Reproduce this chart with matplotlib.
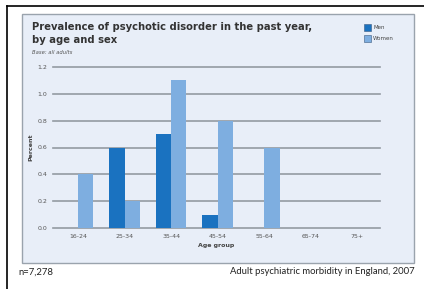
import matplotlib.pyplot as plt
import numpy as np
from matplotlib.patches import Rectangle
from matplotlib.lines import Line2D

# data
groups = ['16-24', '25-34', '35-44', '45-54', '55-64', '65-74', '75+']
men = [0.0, 0.6, 0.7, 0.1, 0.0, 0.0, 0.0]
women = [0.4, 0.2, 1.1, 0.8, 0.6, 0.0, 0.0]
yticks = [0.0, 0.2, 0.4, 0.6, 0.8, 1.0, 1.2]

W, H = 424, 289
fig = plt.figure(figsize=(W / 100, H / 100), dpi=100)
fig.patch.set_facecolor('white')

def fx(px):
    return px / W

def fy(py):
    return 1 - py / H

# black frame lines (left and top)
fig.add_artist(Line2D([fx(7), fx(7)], [fy(6), 0], color='black', lw=1.2))
fig.add_artist(Line2D([fx(7), 1], [fy(6), fy(6)], color='black', lw=1.2))

# light blue panel
fig.add_artist(Rectangle((fx(22), fy(263)), fx(414) - fx(22), fy(14) - fy(263),
                         facecolor='#e8eef8', edgecolor='#9aa3ad', lw=1.0, zorder=0))

men_c = '#1a72c0'
women_c = '#7eaee0'

ax = fig.add_axes([fx(53), fy(228), fx(380) - fx(53), fy(67) - fy(228)])
ax.set_zorder(2)
ax.set_facecolor('none')
x = np.arange(len(groups))
w = 0.33
for t in yticks:
    ax.axhline(t, color='#939aa2', lw=1.2, zorder=1, clip_on=False)
ax.bar(x - w, men, w, align='edge', color=men_c, zorder=2)
ax.bar(x, women, w, align='edge', color=women_c, zorder=2)
ax.set_xlim(-0.54, 6.49)
ax.set_ylim(0, 1.2)
for s in ax.spines.values():
    s.set_visible(False)
ax.set_yticks(yticks)
ax.set_yticklabels(['%.1f' % t for t in yticks], fontsize=4.5, color='#555555')
ax.set_xticks(x)
ax.set_xticklabels(groups, fontsize=4.5, color='#555555')
ax.tick_params(axis='both', length=0, pad=4)
ax.set_ylabel('Percent', fontsize=4.5, fontweight='bold', color='#444444', labelpad=3)
ax.set_xlabel('Age group', fontsize=4.5, fontweight='bold', color='#444444', labelpad=3)

# titles
fig.text(fx(32), fy(27), 'Prevalence of psychotic disorder in the past year,',
         fontsize=7.2, fontweight='bold', color='#333333', va='center')
fig.text(fx(32), fy(40), 'by age and sex',
         fontsize=7.2, fontweight='bold', color='#333333', va='center')
fig.text(fx(32), fy(52), 'Base: all adults', fontsize=3.8, style='italic',
         color='#555555', va='center')

# legend
fig.add_artist(Rectangle((fx(364), fy(31)), fx(7), fy(24) - fy(31),
                         facecolor=men_c, edgecolor='#3a5a80', lw=0.4))
fig.add_artist(Rectangle((fx(364), fy(42)), fx(7), fy(35) - fy(42),
                         facecolor=women_c, edgecolor='#3a5a80', lw=0.4))
fig.text(fx(373), fy(27.5), 'Men', fontsize=4, color='#444444', va='center')
fig.text(fx(373), fy(38.5), 'Women', fontsize=4, color='#444444', va='center')

# footer
fig.text(fx(18), fy(272), 'n=7,278', fontsize=6.8, family='Lato', color='#222222', va='center')
fig.text(fx(415), fy(272), 'Adult psychiatric morbidity in England, 2007',
         fontsize=6.8, family='Lato', color='#222222', va='center', ha='right')

fig.savefig('out.png', dpi=100)
